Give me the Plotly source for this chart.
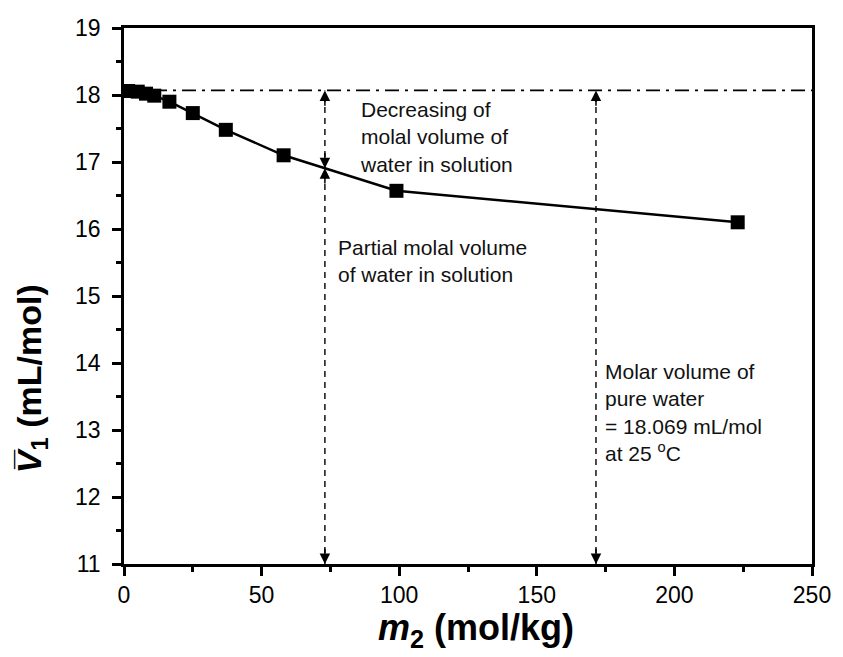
import plotly.graph_objects as go

# Data
m2 = [1.5, 5, 8, 11, 16.5, 25, 37, 58, 99, 223]
V1 = [18.06, 18.05, 18.02, 17.99, 17.90, 17.73, 17.48, 17.10, 16.57, 16.10]
V_pure = 18.069
x_arrow1 = 73.0
x_arrow2 = 171.5
x_range = [0, 250]
y_range = [11, 19]
x_ticks = [0, 50, 100, 150, 200, 250]
y_ticks = [11, 12, 13, 14, 15, 16, 17, 18, 19]

# curve value at arrow1 (linear between neighbours)
def interp(x, xs, ys):
    for i in range(len(xs) - 1):
        if xs[i] <= x <= xs[i + 1]:
            t = (x - xs[i]) / (xs[i + 1] - xs[i])
            return ys[i] + t * (ys[i + 1] - ys[i])
    return ys[-1]

y_curve = interp(x_arrow1, m2, V1)

FONT = "Liberation Sans, Arial, sans-serif"

fig = go.Figure()

# dash-dot pure water line
fig.add_trace(go.Scatter(x=x_range, y=[V_pure, V_pure], mode="lines",
                         line=dict(color="black", width=1.8, dash="14px,6px,3px,6px"),
                         hoverinfo="skip", showlegend=False))
# vertical dashed lines
fig.add_trace(go.Scatter(x=[x_arrow1, x_arrow1], y=[y_range[0], V_pure], mode="lines",
                         line=dict(color="black", width=1.4, dash="6px,5px"),
                         hoverinfo="skip", showlegend=False))
fig.add_trace(go.Scatter(x=[x_arrow2, x_arrow2], y=[y_range[0], V_pure], mode="lines",
                         line=dict(color="black", width=1.4, dash="6px,5px"),
                         hoverinfo="skip", showlegend=False))

# data
fig.add_trace(go.Scatter(x=m2, y=V1, mode="lines+markers",
                         line=dict(color="black", width=2.5),
                         marker=dict(symbol="square", size=14, color="black"),
                         showlegend=False))

ann = []
def arrow(x, y, direction):
    tail = y - 0.25 * direction
    ann.append(dict(x=x, y=y, ax=x, ay=tail, xref="x", yref="y", axref="x", ayref="y",
                    text="", showarrow=True, arrowhead=2, arrowsize=1.4,
                    arrowwidth=1.5, arrowcolor="black"))

arrow(x_arrow1, V_pure, +1)
arrow(x_arrow1, y_curve, -1)
arrow(x_arrow1, y_curve, +1)
arrow(x_arrow1, y_range[0], -1)
arrow(x_arrow2, V_pure, +1)
arrow(x_arrow2, y_range[0], -1)

def label(x, y, text):
    ann.append(dict(x=x, y=y, xref="x", yref="y", text=text, showarrow=False,
                    xanchor="left", yanchor="top", align="left",
                    font=dict(family=FONT, size=21, color="#111")))

label(85.0, 17.99, "Decreasing of<br>molal volume of<br>water in solution")
label(77.0, 15.92, "Partial molal volume<br>of water in solution")
label(174.0, 14.07, "Molar volume of<br>pure water<br>= 18.069 mL/mol<br>at 25 <sup>o</sup>C")

# axis titles
ann.append(dict(x=0.512, y=-0.124, xref="paper", yref="paper", showarrow=False,
                xanchor="center", yanchor="middle",
                text="<b><i>m</i><sub>2</sub> (mol/kg)</b>",
                font=dict(family=FONT, size=36, color="black")))
ann.append(dict(x=-0.135, y=0.345, xref="paper", yref="paper", showarrow=False,
                xanchor="center", yanchor="middle", textangle=-90,
                text="<b><i>V\u0305</i><sub>1</sub> (mL/mol)</b>",
                font=dict(family=FONT, size=34, color="black")))

fig.update_layout(
    width=843, height=657,
    margin=dict(l=124, r=15, t=28, b=93),
    plot_bgcolor="white", paper_bgcolor="white",
    font=dict(family=FONT, size=23, color="black"),
    annotations=ann,
    xaxis=dict(range=x_range, tickvals=x_ticks, showgrid=False, zeroline=False,
               showline=True, linecolor="black", linewidth=2.5, mirror=True,
               ticks="outside", ticklen=9, tickwidth=2.5, tickcolor="black",
               ticklabeloverflow="allow",
               minor=dict(dtick=25, ticks="outside", ticklen=5, tickwidth=2.5, tickcolor="black"),
               tickfont=dict(family=FONT, size=23)),
    yaxis=dict(range=y_range, tickvals=y_ticks, showgrid=False, zeroline=False,
               showline=True, linecolor="black", linewidth=2.5, mirror=True,
               ticks="outside", ticklen=9, tickwidth=2.5, tickcolor="black",
               ticklabelstandoff=7, ticklabeloverflow="allow",
               minor=dict(dtick=0.5, ticks="outside", ticklen=5, tickwidth=2.5, tickcolor="black"),
               tickfont=dict(family=FONT, size=23)),
)

fig.write_html("out.html", config={"displayModeBar": False},
               post_script="document.body.style.margin='0';document.body.style.padding='0';")
